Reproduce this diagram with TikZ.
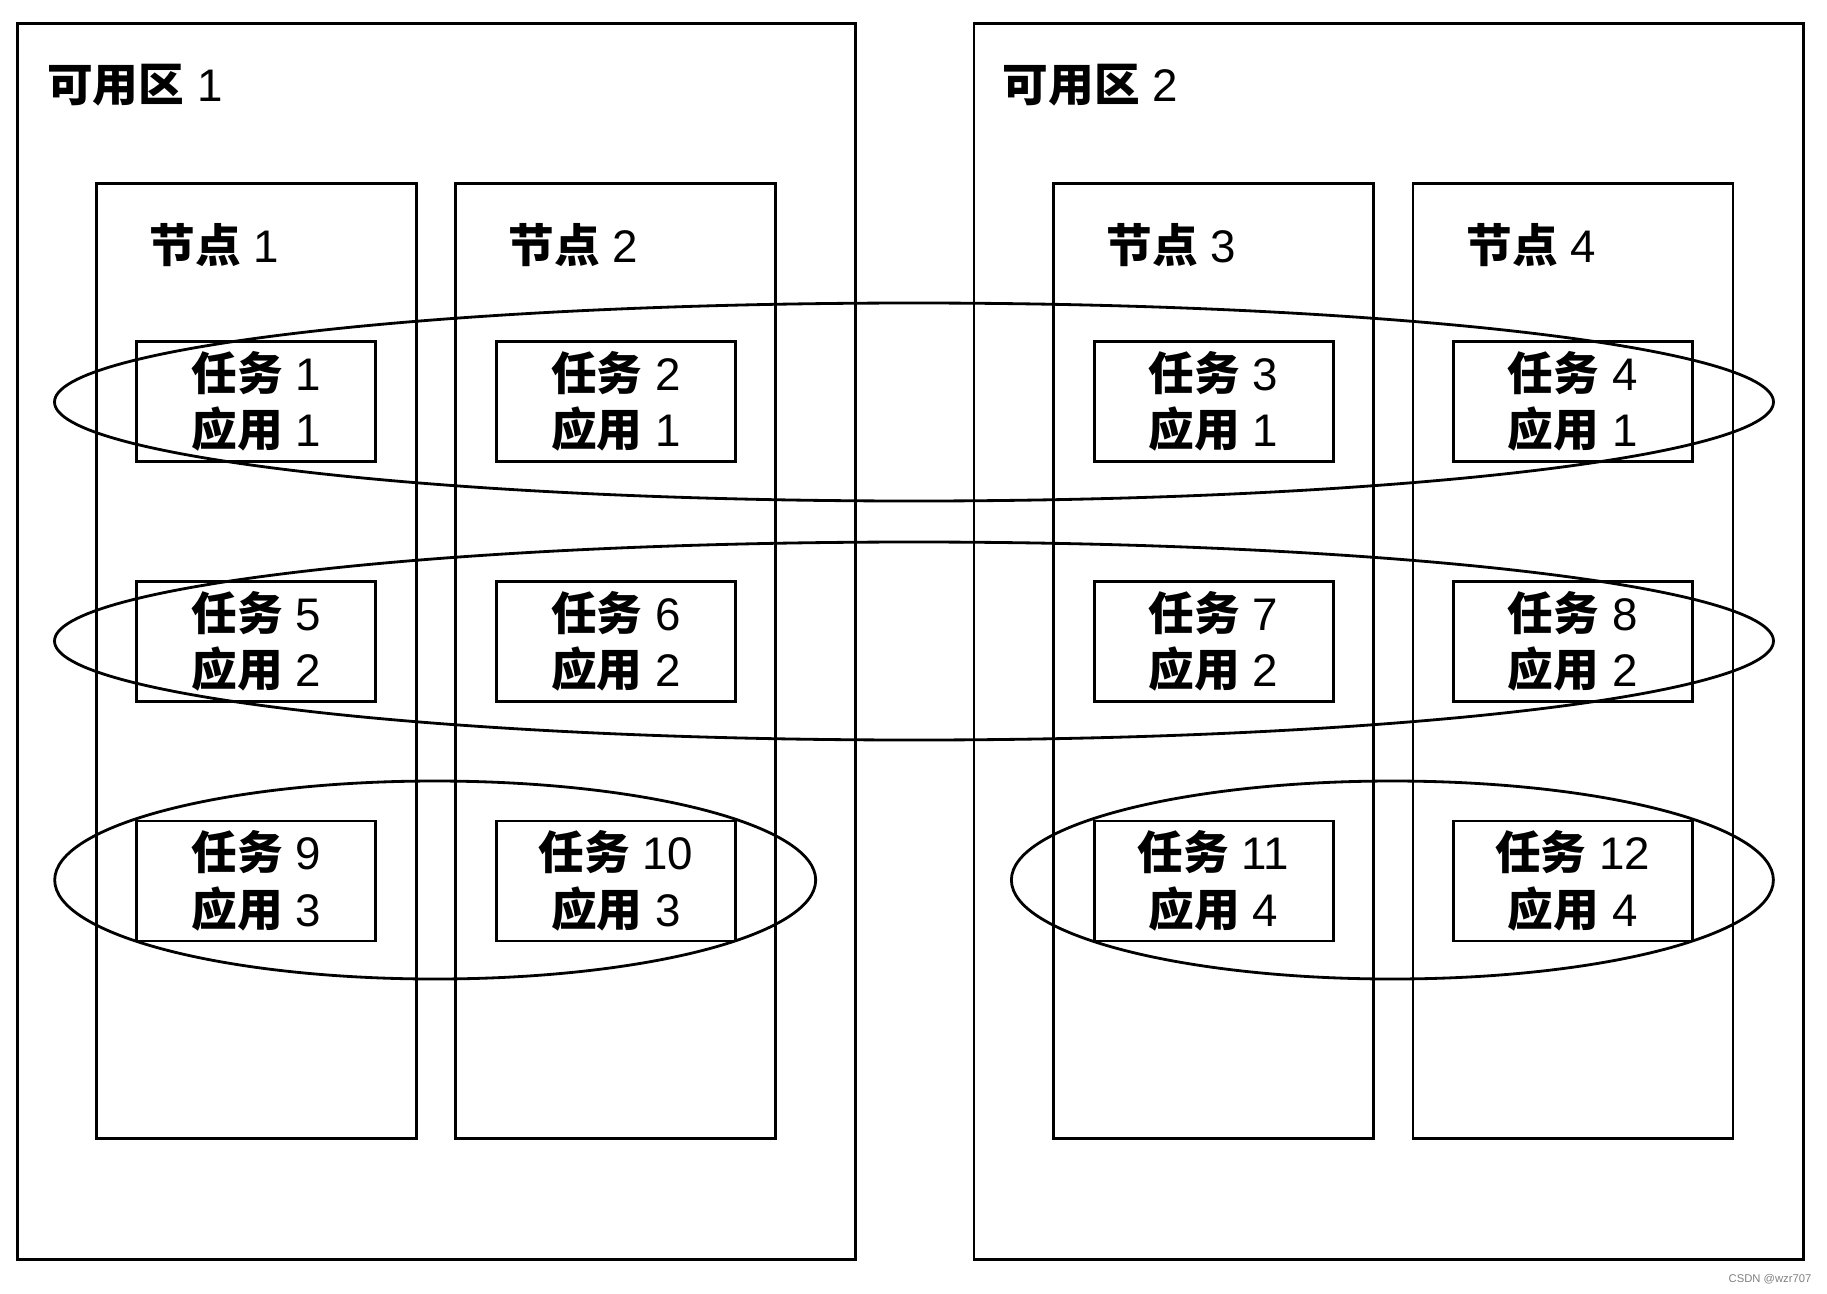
\documentclass[tikz,border=0pt]{standalone}
\usepackage{fontspec}
\setmainfont{Liberation Sans}
\newfontfamily\cjk{Noto Sans CJK SC}
\usetikzlibrary{shapes.geometric}
\newcommand\zh[1]{{\cjk\bfseries #1}}

\begin{document}
\begin{tikzpicture}[x=0.1mm, y=-0.1mm]
  \tikzset{
      every node/.append style = {
          font = \fontsize{13pt}{16pt}\selectfont
      },
      zone/.style = {
          draw, line width = 0.8pt,
          minimum width = 83.8mm, minimum height = 123.6mm,
          inner sep = 0pt
      },
      host/.style = {
          draw, line width = 0.8pt,
          minimum width = 32mm, minimum height = 95.5mm,
          inner sep = 0pt
      },
      task/.style = {
          draw, line width = 0.8pt,
          minimum width = 23.9mm, minimum height = 12mm,
          inner sep = 0pt, align = center
      },
      group/.style = {
          shape = ellipse, draw, line width = 0.8pt,
          minimum height = 19.8mm, inner sep = 0pt
      },
      caption/.style = {
          anchor = west, inner sep = 0pt
      }
  }
  \useasboundingbox (0,0) rectangle (1827,1294);

  % availability zones
  \node[zone] (zone1) at (436.4,641.5) {};
  \node[zone, minimum width = 83mm] (zone2) at (1388.9,641.5) {};
  \node[caption] (zone1t) at (46.6,85) {\zh{可用区}~1};
  \node[caption] (zone2t) at (1002,85) {\zh{可用区}~2};

  % nodes
  \node[host] (node1) at (256.4,660.7) {};
  \node[host] (node2) at (615.8,660.7) {};
  \node[host] (node3) at (1213.6,660.7) {};
  \node[host] (node4) at (1573,660.7) {};
  \node[caption] (node1t) at (149,244.7) {\zh{节点}~1};
  \node[caption] (node2t) at (508,244.7) {\zh{节点}~2};
  \node[caption] (node3t) at (1105.8,244.7) {\zh{节点}~3};
  \node[caption] (node4t) at (1465.8,244.7) {\zh{节点}~4};

  % tasks
  \node[task] (t1) at (256.4,401.4) {\zh{任务}~1\\\zh{应用}~1};
  \node[task] (t2) at (615.8,401.4) {\zh{任务}~2\\\zh{应用}~1};
  \node[task] (t3) at (1213.6,401.4) {\zh{任务}~3\\\zh{应用}~1};
  \node[task] (t4) at (1572.7,401.4) {\zh{任务}~4\\\zh{应用}~1};
  \node[task] (t5) at (256.4,641.4) {\zh{任务}~5\\\zh{应用}~2};
  \node[task] (t6) at (615.8,641.4) {\zh{任务}~6\\\zh{应用}~2};
  \node[task] (t7) at (1213.6,641.4) {\zh{任务}~7\\\zh{应用}~2};
  \node[task] (t8) at (1572.7,641.4) {\zh{任务}~8\\\zh{应用}~2};
  \node[task] (t9) at (256.4,880.9) {\zh{任务}~9\\\zh{应用}~3};
  \node[task] (t10) at (615.8,880.9) {\zh{任务}~10\\\zh{应用}~3};
  \node[task] (t11) at (1213.6,880.9) {\zh{任务}~11\\\zh{应用}~4};
  \node[task] (t12) at (1572.7,880.9) {\zh{任务}~12\\\zh{应用}~4};

  % application groups
  \node[group, minimum width = 171.9mm] (app1) at (914,402) {};
  \node[group, minimum width = 171.9mm] (app2) at (914,641) {};
  \node[group, minimum width = 76.1mm] (app3) at (435.2,880) {};
  \node[group, minimum width = 76.2mm] (app4) at (1392.4,880) {};

  \node[anchor = east, inner sep = 0pt, text = gray,
        font = \fontsize{3.2pt}{4pt}\selectfont] (mark) at (1812,1279) {CSDN @wzr707};
\end{tikzpicture}
\end{document}
